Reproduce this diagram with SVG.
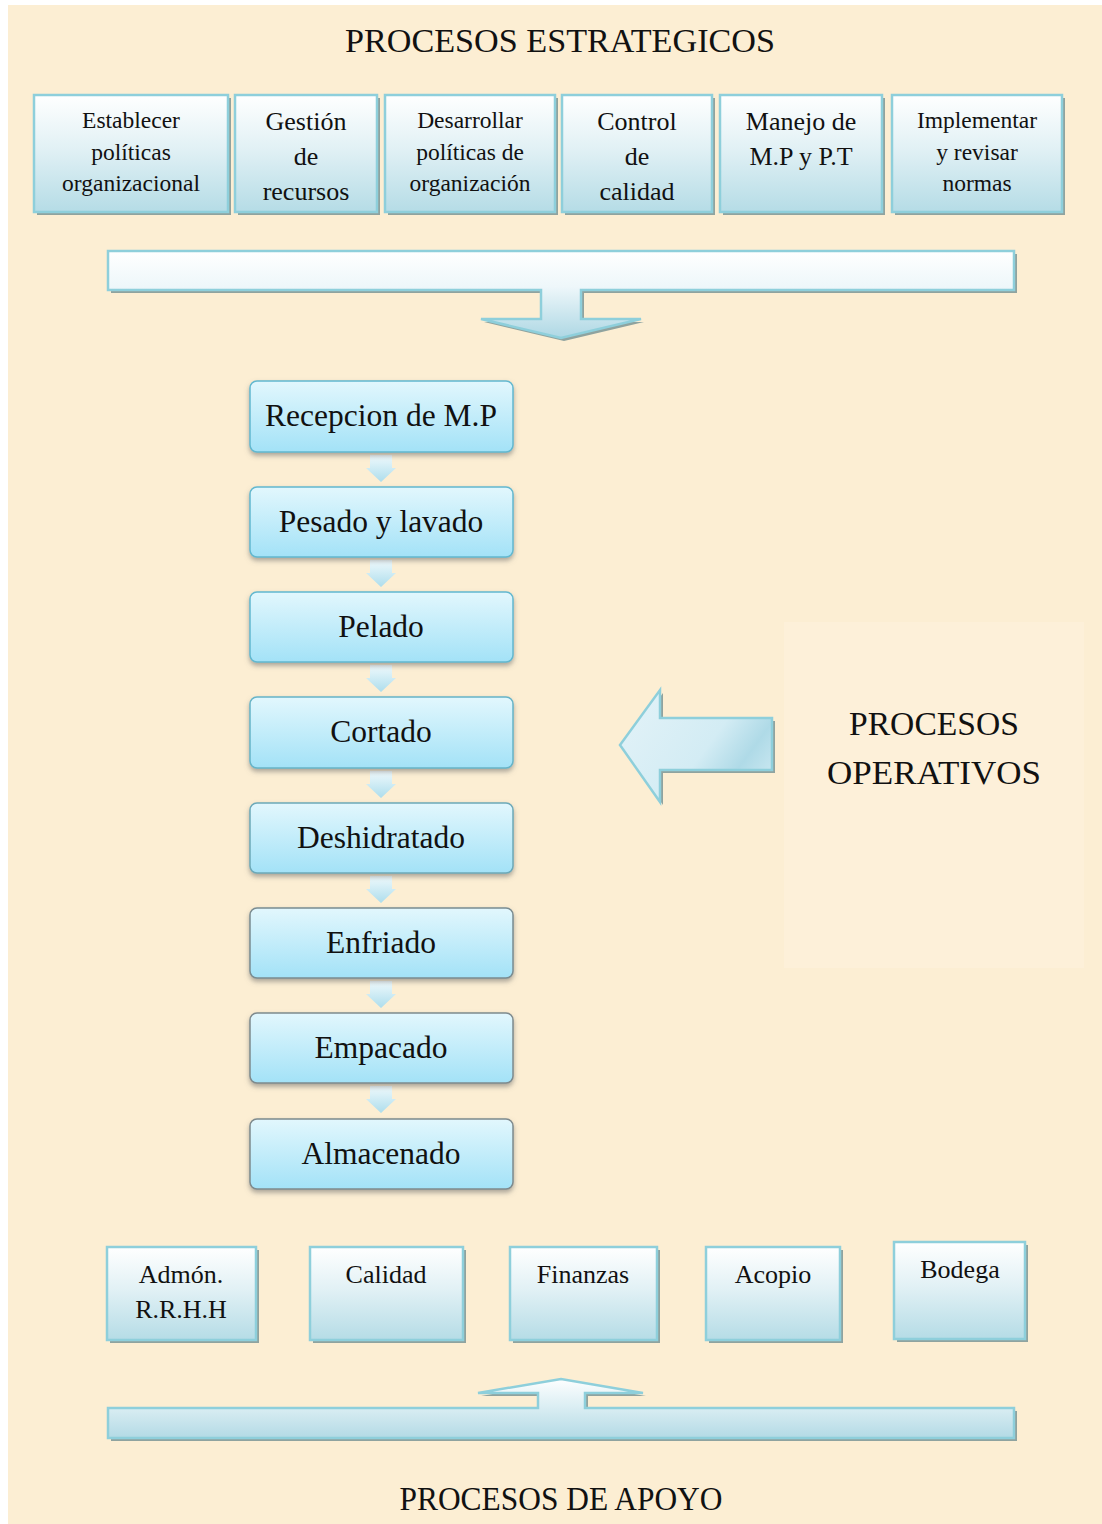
<svg xmlns="http://www.w3.org/2000/svg" width="1102" height="1524" viewBox="0 0 1102 1524">
  <style>
    .title { font-family: "Liberation Serif", "Times New Roman", serif; font-size: 34px; fill: #111; text-anchor: middle; }
    .sbox { fill: url(#gStrat); stroke: #8ECFDB; stroke-width: 2.5; }
    .shadow { fill: #8FA39F; }
    .stxt { font-family: "Liberation Serif", "Times New Roman", serif; font-size: 23.5px; fill: #111; text-anchor: middle; }
    .stxt-l { font-family: "Liberation Serif", "Times New Roman", serif; font-size: 26px; fill: #111; text-anchor: middle; }
    .obox { fill: url(#gOper); stroke-width: 1.5; filter: url(#soft); }
    .otxt { font-family: "Liberation Serif", "Times New Roman", serif; font-size: 31.5px; fill: #111; text-anchor: middle; }
    .step { fill: url(#gStep); }
    .band { stroke: #8ECFDB; stroke-width: 2.5; }
  </style>
  <defs>
    <linearGradient id="gStrat" x1="0" y1="0" x2="0" y2="1">
      <stop offset="0" stop-color="#FFFFFF"/>
      <stop offset="0.45" stop-color="#E2F1F5"/>
      <stop offset="1" stop-color="#B5DCE6"/>
    </linearGradient>
    <linearGradient id="gOper" x1="0" y1="0" x2="0" y2="1">
      <stop offset="0" stop-color="#E2F7FD"/>
      <stop offset="1" stop-color="#A3E2F7"/>
    </linearGradient>
    <linearGradient id="gStep" x1="0" y1="0" x2="0" y2="1">
      <stop offset="0" stop-color="#F0FAFD"/>
      <stop offset="1" stop-color="#ADDDEC"/>
    </linearGradient>
    <linearGradient id="gTopBand" x1="0" y1="251" x2="0" y2="340" gradientUnits="userSpaceOnUse">
      <stop offset="0" stop-color="#FFFFFF"/>
      <stop offset="0.4" stop-color="#EEF7FA"/>
      <stop offset="1" stop-color="#ABD6E3"/>
    </linearGradient>
    <linearGradient id="gBotBand" x1="0" y1="1378" x2="0" y2="1438" gradientUnits="userSpaceOnUse">
      <stop offset="0" stop-color="#FFFFFF"/>
      <stop offset="0.45" stop-color="#DDEFF4"/>
      <stop offset="1" stop-color="#B3DAE5"/>
    </linearGradient>
    <linearGradient id="gLeft" x1="620" y1="690" x2="772" y2="802" gradientUnits="userSpaceOnUse">
      <stop offset="0" stop-color="#E4F3F8"/>
      <stop offset="0.55" stop-color="#D3ECF4"/>
      <stop offset="0.75" stop-color="#AFDAE7"/>
      <stop offset="1" stop-color="#D6EEF5"/>
    </linearGradient>
    <filter id="soft" x="-10%" y="-20%" width="120%" height="150%">
      <feDropShadow dx="0" dy="3" stdDeviation="2.5" flood-color="#6B6B6B" flood-opacity="0.55"/>
    </filter>
  </defs>

  <!-- page background -->
  <rect x="0" y="0" width="1102" height="1524" fill="#FFFFFF"/>
  <rect x="8" y="5" width="1094" height="1519" fill="#FCEED3"/>
  <rect x="784" y="622" width="300" height="346" fill="#FDF0D9"/>

  <!-- strategic processes -->
  <text class="title" x="560" y="52" textLength="430" lengthAdjust="spacingAndGlyphs">PROCESOS ESTRATEGICOS</text>

  <g id="est-1">
    <rect class="shadow" x="37" y="98" width="194" height="117"/>
    <rect class="sbox" x="34" y="95" width="194" height="117"/>
    <text class="stxt"><tspan x="131" y="128">Establecer</tspan><tspan x="131" y="160">políticas</tspan><tspan x="131" y="191">organizacional</tspan></text>
  </g>
  <g id="est-2">
    <rect class="shadow" x="238" y="98" width="142" height="117"/>
    <rect class="sbox" x="235" y="95" width="142" height="117"/>
    <text class="stxt-l"><tspan x="306" y="130">Gestión</tspan><tspan x="306" y="165">de</tspan><tspan x="306" y="200">recursos</tspan></text>
  </g>
  <g id="est-3">
    <rect class="shadow" x="388" y="98" width="170" height="117"/>
    <rect class="sbox" x="385" y="95" width="170" height="117"/>
    <text class="stxt"><tspan x="470" y="128">Desarrollar</tspan><tspan x="470" y="160">políticas de</tspan><tspan x="470" y="191">organización</tspan></text>
  </g>
  <g id="est-4">
    <rect class="shadow" x="565" y="98" width="150" height="117"/>
    <rect class="sbox" x="562" y="95" width="150" height="117"/>
    <text class="stxt-l"><tspan x="637" y="130">Control</tspan><tspan x="637" y="165">de</tspan><tspan x="637" y="200">calidad</tspan></text>
  </g>
  <g id="est-5">
    <rect class="shadow" x="723" y="98" width="162" height="117"/>
    <rect class="sbox" x="720" y="95" width="162" height="117"/>
    <text class="stxt-l"><tspan x="801" y="130">Manejo de</tspan><tspan x="801" y="165">M.P y P.T</tspan></text>
  </g>
  <g id="est-6">
    <rect class="shadow" x="895" y="98" width="170" height="117"/>
    <rect class="sbox" x="892" y="95" width="170" height="117"/>
    <text class="stxt"><tspan x="977" y="128">Implementar</tspan><tspan x="977" y="160">y revisar</tspan><tspan x="977" y="191">normas</tspan></text>
  </g>

  <!-- connectors: banners and arrows -->
  <g id="connectors">
    <!-- strategic band with downward arrow -->
    <path class="shadow" d="M111,254 H1017 V293 H584 V322 H644 L564,341 L484,322 H544 V293 H111 Z"/>
    <path class="band" fill="url(#gTopBand)" d="M108,251 H1014 V290 H581 V319 H641 L561,338 L481,319 H541 V290 H108 Z"/>

    <!-- step arrows between operative boxes -->
    <path class="step" d="M370,455 H392 V468 H396 L381,482 L366,468 H370 Z"/>
    <path class="step" d="M370,560 H392 V573 H396 L381,587 L366,573 H370 Z"/>
    <path class="step" d="M370,665 H392 V678 H396 L381,692 L366,678 H370 Z"/>
    <path class="step" d="M370,771 H392 V784 H396 L381,798 L366,784 H370 Z"/>
    <path class="step" d="M370,876 H392 V889 H396 L381,903 L366,889 H370 Z"/>
    <path class="step" d="M370,981 H392 V994 H396 L381,1008 L366,994 H370 Z"/>
    <path class="step" d="M370,1086 H392 V1099 H396 L381,1113 L366,1099 H370 Z"/>

    <!-- arrow pointing to operative chain -->
    <path class="shadow" d="M663,693 V721 H775 V773 H663 V805 L623,748 Z"/>
    <path class="band" fill="url(#gLeft)" d="M660,690 V718 H772 V770 H660 V802 L620,745 Z"/>

    <!-- support band with upward arrow -->
    <path class="shadow" d="M111,1411 H541 V1396 H481 L564,1382 L646,1396 H588 V1411 H1017 V1441 H111 Z"/>
    <path class="band" fill="url(#gBotBand)" d="M108,1408 H538 V1393 H478 L561,1379 L643,1393 H585 V1408 H1014 V1438 H108 Z"/>
  </g>

  <!-- operative processes -->
  <g id="op-1">
    <rect class="obox" x="250" y="381" width="263" height="71" rx="7" stroke="#62B8CF"/>
    <text class="otxt" x="381" y="426">Recepcion de M.P</text>
  </g>
  <g id="op-2">
    <rect class="obox" x="250" y="487" width="263" height="70" rx="7" stroke="#62B8CF"/>
    <text class="otxt" x="381" y="532">Pesado y lavado</text>
  </g>
  <g id="op-3">
    <rect class="obox" x="250" y="592" width="263" height="70" rx="7" stroke="#62B8CF"/>
    <text class="otxt" x="381" y="637">Pelado</text>
  </g>
  <g id="op-4">
    <rect class="obox" x="250" y="697" width="263" height="71" rx="7" stroke="#66B4C8"/>
    <text class="otxt" x="381" y="742">Cortado</text>
  </g>
  <g id="op-5">
    <rect class="obox" x="250" y="803" width="263" height="70" rx="7" stroke="#6CA9B8"/>
    <text class="otxt" x="381" y="848">Deshidratado</text>
  </g>
  <g id="op-6">
    <rect class="obox" x="250" y="908" width="263" height="70" rx="7" stroke="#7A8C91"/>
    <text class="otxt" x="381" y="953">Enfriado</text>
  </g>
  <g id="op-7">
    <rect class="obox" x="250" y="1013" width="263" height="70" rx="7" stroke="#7E8A8D"/>
    <text class="otxt" x="381" y="1058">Empacado</text>
  </g>
  <g id="op-8">
    <rect class="obox" x="250" y="1119" width="263" height="70" rx="7" stroke="#7E8A8D"/>
    <text class="otxt" x="381" y="1164">Almacenado</text>
  </g>

  <text class="title" x="934" y="735" textLength="170" lengthAdjust="spacingAndGlyphs">PROCESOS</text>
  <text class="title" x="934" y="784" textLength="214" lengthAdjust="spacingAndGlyphs">OPERATIVOS</text>

  <!-- support processes -->
  <g id="sup-1">
    <rect class="shadow" x="110" y="1250" width="149" height="93"/>
    <rect class="sbox" x="107" y="1247" width="149" height="93"/>
    <text class="stxt-l"><tspan x="181" y="1283">Admón.</tspan><tspan x="181" y="1318">R.R.H.H</tspan></text>
  </g>
  <g id="sup-2">
    <rect class="shadow" x="313" y="1250" width="153" height="93"/>
    <rect class="sbox" x="310" y="1247" width="153" height="93"/>
    <text class="stxt-l" x="386" y="1283">Calidad</text>
  </g>
  <g id="sup-3">
    <rect class="shadow" x="513" y="1250" width="147" height="93"/>
    <rect class="sbox" x="510" y="1247" width="147" height="93"/>
    <text class="stxt-l" x="583" y="1283">Finanzas</text>
  </g>
  <g id="sup-4">
    <rect class="shadow" x="709" y="1250" width="134" height="93"/>
    <rect class="sbox" x="706" y="1247" width="134" height="93"/>
    <text class="stxt-l" x="773" y="1283">Acopio</text>
  </g>
  <g id="sup-5">
    <rect class="shadow" x="897" y="1245" width="131" height="97"/>
    <rect class="sbox" x="894" y="1242" width="131" height="97"/>
    <text class="stxt-l" x="960" y="1278">Bodega</text>
  </g>

  <text class="title" x="561" y="1510" font-size="30" textLength="323" lengthAdjust="spacingAndGlyphs">PROCESOS DE APOYO</text>
</svg>
